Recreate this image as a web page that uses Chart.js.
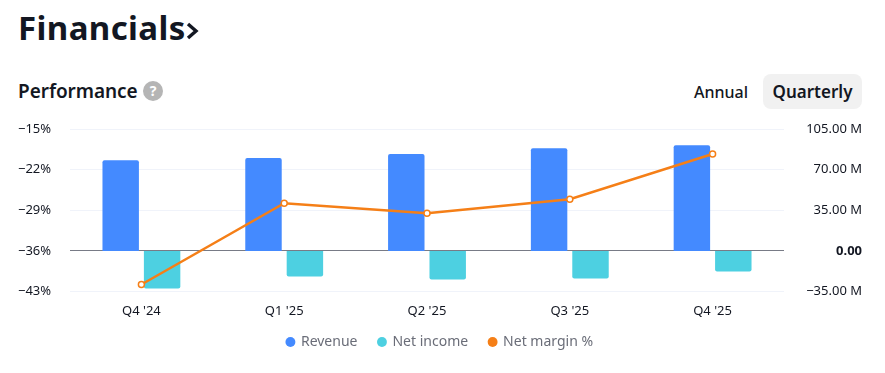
<!DOCTYPE html>
<html><head><meta charset="utf-8">
<script src="https://cdn.jsdelivr.net/npm/chart.js@4"></script>
<style>
html,body{margin:0;padding:0;background:#fff;width:885px;height:373px;overflow:hidden}
body{position:relative;font-family:"Noto Sans",sans-serif;color:#131722}
.t{position:absolute;white-space:nowrap}
#h1{left:18px;top:6px;font-size:33px;font-weight:700;line-height:44px;letter-spacing:.4px}
#h2{left:18px;top:78px;font-size:19px;font-weight:600;line-height:26px;letter-spacing:-.05px}
#q{left:143px;top:81px;width:20px;height:20px;border-radius:50%;background:#b5b5b5;color:#fff;font-size:14px;font-weight:700;line-height:20px;text-align:center}
#an{left:694px;top:80px;font-size:16px;line-height:24px;font-weight:500}
#qu{left:763px;top:74px;width:99px;height:35px;border-radius:8px;background:#f1f1f1;font-size:17px;line-height:35px;font-weight:600;text-align:center}
canvas{position:absolute;left:0;top:0}
</style></head><body>
<div class="t" id="h1">Financials<svg width="16" height="20" viewBox="0 0 16 20" style="margin-left:-1px;vertical-align:-1px"><path d="M3 3l8 7-8 7" fill="none" stroke="#131722" stroke-width="3.4"/></svg></div>
<div class="t" id="h2">Performance</div>
<div class="t" id="q">?</div>
<div class="t" id="an">Annual</div>
<div class="t" id="qu">Quarterly</div>
<canvas id="c" width="885" height="373"></canvas>
<script>
const categories=["Q4 '24","Q1 '25","Q2 '25","Q3 '25","Q4 '25"];
const revenue=[78,80,83.5,88.5,91];
const netIncome=[-32.4,-22,-24.6,-23.8,-17.7];
const netMargin=[-41.8,-27.8,-29.5,-27.1,-19.3];
const leftTicks=[-43,-36,-29,-22,-15];
const rightTicks=[-35,0,35,70,105];
const FONT='"Noto Sans",sans-serif';
const fix=(axis,vals)=>{axis.ticks=vals.map(v=>({value:v}))};
const legendShift={id:'legendShift',beforeInit(ch){
  const lg=ch.legend,f=lg.fit,d=lg.draw;
  lg.fit=function(){f.call(this);this.height-=7.5;};
  lg.draw=function(){const c=this.ctx;c.save();c.translate(0,-7.5);d.call(this);c.restore();};
}};
new Chart(document.getElementById('c'),{
 plugins:[legendShift],
 data:{labels:categories,datasets:[
  {type:'line',label:'Net margin %',data:netMargin,yAxisID:'yL',order:0,borderColor:'#f57f17',backgroundColor:'#f57f17',borderWidth:2.5,pointRadius:3,pointHoverRadius:3,pointBackgroundColor:'#fff',pointBorderColor:'#f57f17',pointBorderWidth:1.5,tension:0},
  {type:'bar',label:'Revenue',data:revenue,yAxisID:'yR',order:1,backgroundColor:'#448aff',borderRadius:{topLeft:2,topRight:2,bottomLeft:0,bottomRight:0},borderSkipped:false,categoryPercentage:.58,barPercentage:.88},
  {type:'bar',label:'Net income',data:netIncome,yAxisID:'yR',order:1,backgroundColor:'#4dd0e1',borderRadius:{topLeft:0,topRight:0,bottomLeft:2,bottomRight:2},borderSkipped:false,categoryPercentage:.58,barPercentage:.88}
 ]},
 options:{responsive:false,animation:false,
  layout:{padding:{left:18,right:23,top:129,bottom:14}},
  plugins:{tooltip:{enabled:false},
   legend:{position:'bottom',labels:{usePointStyle:true,pointStyle:'circle',boxWidth:7,boxHeight:7,padding:21,color:'#6a6d78',font:{family:FONT,size:14},
    sort:(a,b)=>['Revenue','Net income','Net margin %'].indexOf(a.text)-['Revenue','Net income','Net margin %'].indexOf(b.text),
    generateLabels:(ch)=>Chart.defaults.plugins.legend.labels.generateLabels(ch).map(l=>({...l,fillStyle:ch.data.datasets[l.datasetIndex].backgroundColor,strokeStyle:ch.data.datasets[l.datasetIndex].backgroundColor,lineWidth:0}))}}},
  scales:{
   x:{grid:{display:false},border:{display:false},afterFit:a=>{a.height=30},ticks:{color:'#131722',font:{family:FONT,size:13},padding:4,maxRotation:0}},
   yL:{position:'left',min:-43,max:-15,afterBuildTicks:a=>fix(a,leftTicks),afterFit:a=>{a.width=52},
    grid:{color:c=>c.tick&&c.tick.value===-36?'#787b86':'#f0f3fa',lineWidth:1,drawTicks:false},border:{display:false},
    ticks:{crossAlign:'far',padding:0,color:'#131722',font:{family:FONT,size:13},callback:v=>'\u2212'+Math.abs(v)+'%'}},
   yR:{position:'right',min:-35,max:105,afterBuildTicks:a=>fix(a,rightTicks),afterFit:a=>{a.width=78},
    grid:{display:false},border:{display:false},
    ticks:{crossAlign:'far',padding:0,color:'#131722',font:c=>({family:FONT,size:13,weight:c.tick&&c.tick.value===0?'700':'400'}),callback:v=>v===0?'0.00':(v<0?'\u2212':'')+Math.abs(v).toFixed(2)+' M'}}
  }}
});
</script>
</body></html>
